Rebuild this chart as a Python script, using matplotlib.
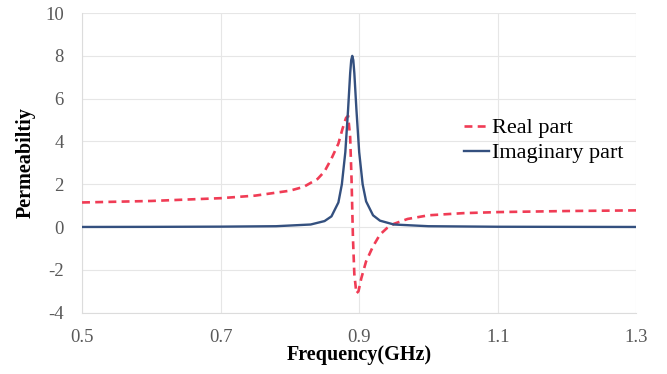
import matplotlib
matplotlib.use("Agg")
import matplotlib.pyplot as plt

# values
freq_real = [0.50, 0.60, 0.70, 0.75, 0.80, 0.82, 0.84, 0.85, 0.86, 0.87, 0.876, 0.881,
             0.884, 0.887, 0.889, 0.891, 0.893, 0.896, 0.899, 0.903, 0.91, 0.92, 0.93,
             0.94, 0.95, 0.97, 1.00, 1.05, 1.10, 1.20, 1.30]
mu_real = [1.15, 1.22, 1.35, 1.47, 1.70, 1.88, 2.25, 2.6, 3.2, 3.9, 4.6, 5.1,
           5.2, 4.2, 2.2, -0.5, -2.2, -3.1, -3.0, -2.4, -1.6, -0.9, -0.35,
           -0.05, 0.15, 0.38, 0.55, 0.65, 0.70, 0.75, 0.78]

freq_imag = [0.50, 0.60, 0.70, 0.78, 0.83, 0.85, 0.86, 0.87, 0.875, 0.88, 0.884, 0.887,
             0.8885, 0.890, 0.8915, 0.893, 0.896, 0.900, 0.905, 0.91, 0.92, 0.93, 0.95,
             1.00, 1.10, 1.20, 1.30]
mu_imag = [0.005, 0.01, 0.02, 0.04, 0.12, 0.28, 0.5, 1.15, 2.0, 3.5, 5.5, 7.2,
           7.8, 8.0, 7.8, 7.2, 5.5, 3.5, 2.0, 1.2, 0.55, 0.3, 0.12,
           0.04, 0.015, 0.01, 0.005]

x_ticks = [0.5, 0.7, 0.9, 1.1, 1.3]
y_ticks = [-4, -2, 0, 2, 4, 6, 8, 10]

plt.rcParams["font.family"] = ["Liberation Serif", "DejaVu Serif"]
plt.rcParams["axes.unicode_minus"] = False

fig = plt.figure(figsize=(6.67, 3.74), dpi=100)
ax = fig.add_axes([0.123, 0.164, 0.831, 0.801])

ax.plot(freq_real, mu_real, color="#f03c55", linestyle=(0, (3, 2)), linewidth=1.9,
        label="Real part", zorder=3)
ax.plot(freq_imag, mu_imag, color="#34507f", linewidth=1.7, label="Imaginary part", zorder=4)

ax.set_xlim(0.5, 1.3)
ax.set_ylim(-4, 10)
ax.set_xticks(x_ticks)
ax.set_yticks(y_ticks)
ax.set_xticklabels([f"{v:.1f}" for v in x_ticks])
ax.tick_params(length=0, labelsize=13.5, labelcolor="#595959")
ax.tick_params(axis="x", pad=12)
ax.tick_params(axis="y", pad=13)
ax.grid(color="#e6e6e6", linewidth=0.8)
for side in ["top", "right"]:
    ax.spines[side].set_visible(False)
for side in ["left", "bottom"]:
    ax.spines[side].set_color("#dcdcdc")

ax.set_xlabel("Frequency(GHz)", fontsize=14.5, fontweight="bold", labelpad=-1)
ax.set_ylabel("Permeabiltiy", fontsize=14.5, fontweight="bold", labelpad=7)

ax.legend(loc="upper left", bbox_to_anchor=(0.69, 0.65), frameon=False, fontsize=16,
          handlelength=1.1, handletextpad=0.15, labelspacing=0.2, borderaxespad=0,
          borderpad=0)

fig.savefig("out.png", dpi=100)
